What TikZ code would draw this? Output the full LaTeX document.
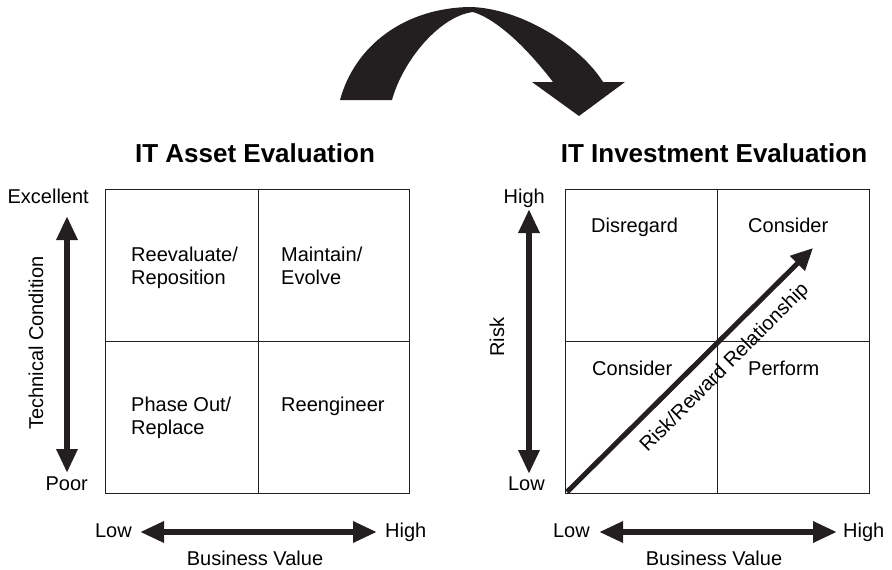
\documentclass[tikz,border=0pt]{standalone}
\usepackage{fontspec}
\setmainfont{Liberation Sans}
\usepackage{tikz}
\usetikzlibrary{arrows.meta}
\definecolor{ink}{RGB}{35,31,32}
\tikzstyle{txt}=[inner sep=0pt,font=\fontsize{20}{23}\selectfont]
\tikzstyle{cell}=[txt,align=left,anchor=base west]
\tikzstyle{title}=[inner sep=0pt,font=\fontsize{26}{30}\selectfont\bfseries,anchor=base]
\tikzstyle{grid}=[line width=1pt,draw=ink]
\tikzstyle{scalearrow}=[line width=6pt,draw=ink,{Triangle[length=24pt,width=20pt]}-{Triangle[length=24pt,width=20pt]}]

\begin{document}
\begin{tikzpicture}[x=1pt,y=-1pt]
\useasboundingbox (0,0) rectangle (892,570);

% big curved arrow
\fill[ink] (340,100) .. controls (355,45) and (405,8) .. (470,7)
  .. controls (520,8) and (580,45) .. (603,82) -- (625,82) -- (579,116)
  -- (532,82) -- (553,82) .. controls (540,65) and (505,22) .. (473,12)
  .. controls (440,16) and (403,60) .. (392,100) -- cycle;

% left matrix
\node[title] (asset) at (255,162) {IT Asset Evaluation};
\draw[grid] (105,189) rectangle (409,493);
\draw[grid] (258,189) -- (258,493) (105,341) -- (409,341);
% multi-line cells: base is the last line
\node[cell] (reeval) at (131,284) {Reevaluate/\\Reposition};
\node[cell] (maint) at (281,284) {Maintain/\\Evolve};
\node[cell] (phase) at (131,434) {Phase Out/\\Replace};
\node[cell] (reeng) at (281,411) {Reengineer};

\node[txt,anchor=base east] (exc) at (89,203) {Excellent};
\node[txt,anchor=base east] (poor) at (88,490) {Poor};
\coordinate (tctop) at (67,216);
\coordinate (tcbot) at (67,473);
\draw[scalearrow] (tctop) -- (tcbot);
\node[txt,rotate=90] (tech) at (36,343) {Technical Condition};

\node[txt,anchor=base east] (lowa) at (132,537) {Low};
\node[txt,anchor=base west] (higha) at (385,537) {High};
\coordinate (bva) at (140,532);
\coordinate (bvb) at (377,532);
\draw[scalearrow] (bva) -- (bvb);
\node[txt,anchor=base] (bvalue) at (255,565) {Business Value};

% right matrix
\node[title] (invest) at (714,162) {IT Investment Evaluation};
\draw[grid] (565,189) rectangle (869,493);
\draw[grid] (717,189) -- (717,493) (565,341) -- (869,341);
\node[cell] (disreg) at (591,232) {Disregard};
\node[cell] (consa) at (748,232) {Consider};
\node[cell] (consb) at (592,375) {Consider};
\node[cell] (perf) at (748,375) {Perform};

\node[txt,anchor=base east] (highr) at (545,203) {High};
\node[txt,anchor=base east] (lowr) at (545,490) {Low};
\coordinate (risktop) at (529,209);
\coordinate (riskbot) at (529,474);
\draw[scalearrow] (risktop) -- (riskbot);
\node[txt,rotate=90] (risk) at (497,337) {Risk};

\node[txt,anchor=base east] (lowb) at (590,537) {Low};
\node[txt,anchor=base west] (highb) at (843,537) {High};
\coordinate (bvc) at (599,532);
\coordinate (bvd) at (837,532);
\draw[scalearrow] (bvc) -- (bvd);
\node[txt,anchor=base] (bvalue2) at (714,565) {Business Value};

% risk/reward line
\coordinate (rrstart) at (567,492);
\coordinate (rrend) at (813,248);
\draw[line width=5pt,draw=ink,-{Triangle[length=22pt,width=20pt]}] (rrstart) -- (rrend);
\node[txt,rotate=45] (rr) at (725,368) {Risk/Reward Relationship};
\end{tikzpicture}
\end{document}
